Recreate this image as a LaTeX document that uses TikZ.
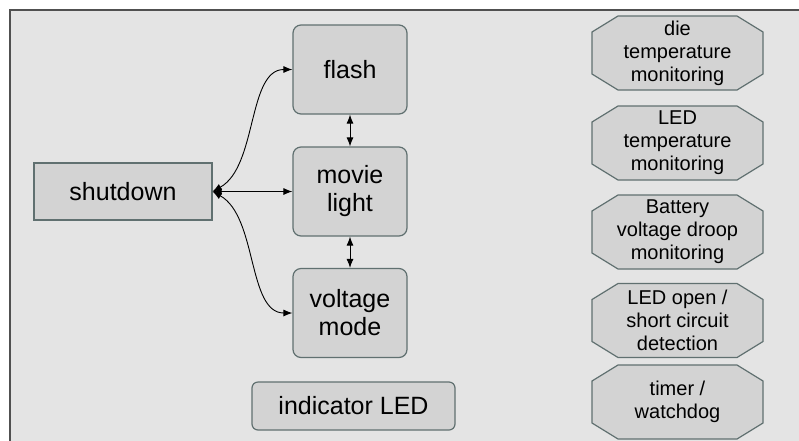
\documentclass[tikz,border=0pt]{standalone}
\usepackage{fontspec}
\setmainfont{Liberation Sans}
\usepackage{tikz}
\usetikzlibrary{arrows.meta}
\definecolor{PageBg} {RGB}{228,228,228}
\definecolor{PageLine}{RGB}{80,80,80}
\definecolor{BoxFill}{RGB}{211,211,211}
\definecolor{BoxLine}{RGB}{96,112,112}
\tikzset{
  nd_blk/.style={
    rectangle, rounded corners=8pt,
    draw=BoxLine, fill=BoxFill, line width=1.2pt,
    minimum width=114pt, minimum height=89pt,
    align=center, font=\fontsize{25}{28}\selectfont},
  nd_bar/.style={
    nd_blk, rounded corners=0pt,
    minimum width=178pt, minimum height=57pt},
  nd_led/.style={
    nd_blk, rounded corners=6pt,
    minimum width=203pt, minimum height=48pt},
  nd_mon/.style={
    rectangle, minimum width=171pt, minimum height=74pt, inner sep=0pt,
    align=center, font=\fontsize{20}{23}\selectfont},
  oct_line/.style={draw=BoxLine, fill=BoxFill, line width=1.2pt},
  arr/.style={{Latex[length=9pt,width=7pt]}-{Latex[length=9pt,width=7pt]},line width=0.9pt},
}
%% octagon box: name, centre y, text
\newcommand{\monbox}[3]{%
  \draw[oct_line,shift={(677.5,#2)}]
    (-59.5,-37) -- (59.5,-37) -- (85.5,-21) -- (85.5,21)
    -- (59.5,37) -- (-59.5,37) -- (-85.5,21) -- (-85.5,-21) -- cycle;
  \node[nd_mon] at (677.5,#2) (#1){#3};
}

\begin{document}
\begin{tikzpicture}[x=1pt,y=-1pt]
\useasboundingbox (0,0) rectangle (799,440);

%% page background
\fill[PageBg] (10,10) rectangle (802,443);
\draw[PageLine,line width=1.5pt] (10,443)--(10,10)--(802,10);

%% modes
\node[nd_bar] at (123,191.5) (SD){shutdown};
\node[nd_blk] at (350,69.5)  (FL){flash};
\node[nd_blk] at (350,191.5) (ML){movie\\light};
\node[nd_blk] at (350,313)   (VM){voltage\\mode};
\node[nd_led] at (353.5,406) (IL){indicator LED};

%% protection
\monbox{P1}{53}{die\\temperature\\monitoring}
\monbox{P2}{143}{LED\\temperature\\monitoring}
\monbox{P3}{232}{Battery\\voltage droop\\monitoring}
\monbox{P4}{320.5}{LED open /\\short circuit\\detection}
\monbox{P5}{402}{timer /\\watchdog}

%% arrows
\draw[arr] (SD.east) .. controls +(45,-25) and +(-45,0) .. (FL.west);
\draw[arr] (SD.east)--(ML.west);
\draw[arr] (SD.east) .. controls +(45,25) and +(-45,0) .. (VM.west);
\draw[arr] (FL)--(ML);
\draw[arr] (ML)--(VM);

\end{tikzpicture}
\end{document}
